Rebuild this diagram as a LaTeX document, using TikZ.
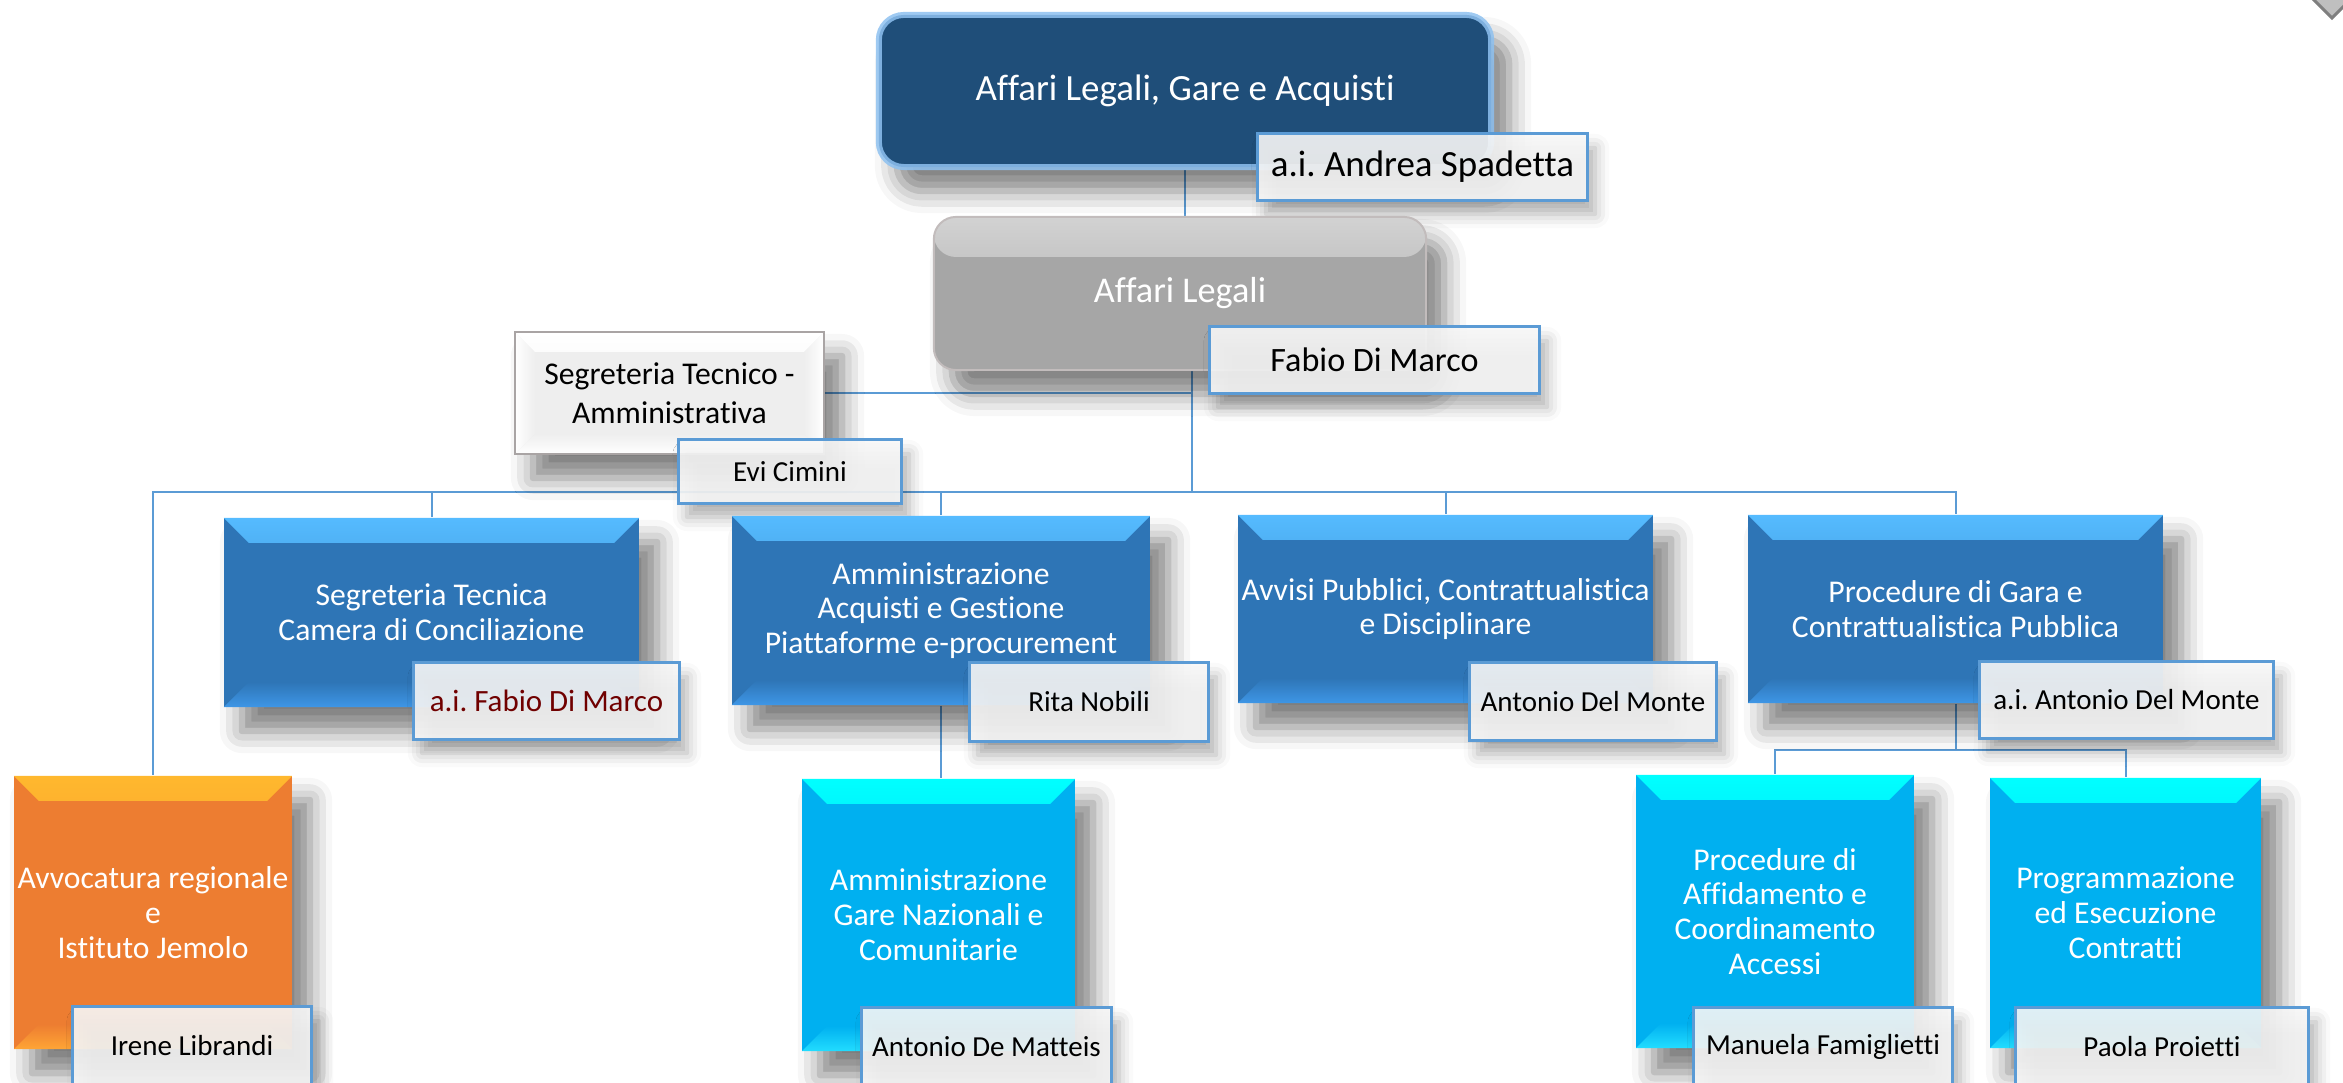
\documentclass[tikz,border=0pt]{standalone}
\usepackage{fontspec}
\setmainfont[Ligatures={NoCommon,NoContextual}]{Carlito}
\usetikzlibrary{shadows.blur}
\pgfdeclarelayer{bg}
\pgfsetlayers{bg,main}
\definecolor{navyfill}{HTML}{1F4E79}
\definecolor{glowblue}{HTML}{8EC1F0}
\definecolor{lineblue}{HTML}{5B9BD5}
\definecolor{unitblue}{HTML}{2E75B6}
\definecolor{unitbluetop}{HTML}{55BBFF}
\definecolor{unitbluebot}{HTML}{3E96E6}
\definecolor{unitcyan}{HTML}{00B0F0}
\definecolor{unitcyantop}{HTML}{00FFFF}
\definecolor{unitcyanbot}{HTML}{22DDFF}
\definecolor{unitorange}{HTML}{ED7D31}
\definecolor{unitorangetop}{HTML}{FFB82E}
\definecolor{unitorangebot}{HTML}{FFA535}
\definecolor{greymid}{HTML}{A6A6A6}
\definecolor{greytop}{HTML}{D2D2D2}
\definecolor{greyborder}{HTML}{C2BCBC}
\definecolor{segrinner}{HTML}{EEEEEE}
\definecolor{segrborder}{HTML}{A9A4A4}
\definecolor{labfill}{HTML}{F7F7F7}
\definecolor{maroontext}{RGB}{112,0,0}
\definecolor{diafill}{HTML}{BFBFBF}
\definecolor{diaborder}{HTML}{7F7F7F}
\frenchspacing
\begin{document}
\begin{tikzpicture}[x=0.01cm,y=-0.01cm,
  conn/.style={draw=lineblue, line width=0.02cm},
  boxshadow/.style={blur shadow={shadow xshift=0.18cm, shadow yshift=-0.24cm, shadow blur radius=0.22cm, shadow opacity=50}},
  labshadow/.style={blur shadow={shadow xshift=0.08cm, shadow yshift=-0.14cm, shadow blur radius=0.14cm, shadow opacity=35}},
  bevel/.style n args={3}{path picture={
    \shade[top color=#1, bottom color=#2]
      (path picture bounding box.north west) -- (path picture bounding box.north east)
      -- ([shift={(-0.25cm,-0.25cm)}]path picture bounding box.north east)
      -- ([shift={(0.25cm,-0.25cm)}]path picture bounding box.north west) -- cycle;
    \shade[top color=#2, bottom color=#3]
      ([shift={(0.25cm,0.25cm)}]path picture bounding box.south west)
      -- ([shift={(-0.25cm,0.25cm)}]path picture bounding box.south east)
      -- (path picture bounding box.south east) -- (path picture bounding box.south west) -- cycle;
  }},
  unitbox/.style={rectangle, inner sep=0pt, align=center, text=white,
    font=\fontsize{9}{9.9}\selectfont, boxshadow},
  bluebox/.style={unitbox, fill=unitblue, bevel={unitbluetop}{unitblue}{unitbluebot}},
  cyanbox/.style={unitbox, fill=unitcyan, bevel={unitcyantop}{unitcyan}{unitcyanbot}},
  orangebox/.style={unitbox, fill=unitorange, bevel={unitorangetop}{unitorange}{unitorangebot}},
  topbox/.style={rectangle, rounded corners=0.25cm, inner sep=0pt, fill=navyfill,
    draw=glowblue, draw opacity=0.85, line width=0.06cm, text=white, font=\fontsize{10.5}{12}\selectfont, boxshadow},
  graybox/.style={rectangle, rounded corners=0.22cm, inner sep=0pt, fill=greymid,
    draw=greyborder, line width=0.02cm, text=white, font=\fontsize{10.3}{12}\selectfont, boxshadow,
    path picture={\shade[top color=greytop, bottom color=greymid]
      (path picture bounding box.north west) rectangle ([yshift=-0.4cm]path picture bounding box.north east);}},
  segrbox/.style={rectangle, inner sep=0pt, align=center, fill=segrinner, draw=segrborder,
    line width=0.025cm, text=black, font=\fontsize{9}{11.2}\selectfont, boxshadow,
    path picture={
      \shade[top color=white, bottom color=segrinner]
        (path picture bounding box.north west) -- (path picture bounding box.north east)
        -- ([shift={(-0.2cm,-0.2cm)}]path picture bounding box.north east)
        -- ([shift={(0.2cm,-0.2cm)}]path picture bounding box.north west) -- cycle;
      \shade[top color=segrinner, bottom color=white]
        ([shift={(0.2cm,0.2cm)}]path picture bounding box.south west)
        -- ([shift={(-0.2cm,0.2cm)}]path picture bounding box.south east)
        -- (path picture bounding box.south east) -- (path picture bounding box.south west) -- cycle;
      \shade[left color=white, right color=segrinner]
        (path picture bounding box.north west) -- ([shift={(0.2cm,-0.2cm)}]path picture bounding box.north west)
        -- ([shift={(0.2cm,0.2cm)}]path picture bounding box.south west) -- (path picture bounding box.south west) -- cycle;
      \shade[left color=segrinner, right color=white]
        (path picture bounding box.north east) -- ([shift={(-0.2cm,-0.2cm)}]path picture bounding box.north east)
        -- ([shift={(-0.2cm,0.2cm)}]path picture bounding box.south east) -- (path picture bounding box.south east) -- cycle;
    }},
  lab/.style={rectangle, inner sep=0pt, draw=lineblue, line width=0.03cm, fill=labfill,
    fill opacity=0.9, text opacity=1, text=black, font=\fontsize{8.25}{10}\selectfont, labshadow}
]
\useasboundingbox (0,0) rectangle (2343,1083);
\clip (0,0) rectangle (2343,1083);

% top level
\node[topbox, minimum width=6.12cm, minimum height=1.52cm] (top) at (1185,91) {Affari Legali, Gare e Acquisti};
\node[lab, font=\fontsize{10.5}{12}\selectfont, minimum width=3.29cm, minimum height=0.66cm] (topL) at (1422.5,167) {a.i. Andrea Spadetta};
\node[graybox, minimum width=4.92cm, minimum height=1.53cm] (legal) at (1180,293.5) {Affari Legali};
\node[lab, font=\fontsize{9.7}{11}\selectfont, minimum width=3.29cm, minimum height=0.66cm] (legalL) at (1374.5,360) {Fabio Di Marco};
\node[segrbox, minimum width=3.09cm, minimum height=1.22cm] (segr) at (669.5,393) {Segreteria Tecnico -\\Amministrativa};
\node[lab, minimum width=2.22cm, minimum height=0.63cm] (segrL) at (790,471.5) {Evi Cimini};

% second level
\node[bluebox, minimum width=4.15cm, minimum height=1.89cm] (b1) at (431.5,612.5) {Segreteria Tecnica\\Camera di Conciliazione};
\node[lab, text=maroontext, font=\fontsize{8.8}{10}\selectfont, minimum width=2.65cm, minimum height=0.76cm] (b1L) at (546.5,701) {a.i. Fabio Di Marco};
\node[bluebox, minimum width=4.18cm, minimum height=1.89cm] (b2) at (941,610.5) {Amministrazione\\Acquisti e Gestione\\Piattaforme e-procurement};
\node[lab, minimum width=2.38cm, minimum height=0.78cm] (b2L) at (1089,702) {Rita Nobili};
\node[bluebox, minimum width=4.15cm, minimum height=1.88cm] (b3) at (1445.5,609) {Avvisi Pubblici, Contrattualistica\\e Disciplinare};
\node[lab, minimum width=2.46cm, minimum height=0.77cm] (b3L) at (1593,701.5) {Antonio Del Monte};
\node[bluebox, minimum width=4.15cm, minimum height=1.88cm] (b4) at (1955.5,609) {Procedure di Gara e\\Contrattualistica Pubblica};
\node[lab, minimum width=2.93cm, minimum height=0.76cm] (b4L) at (2126.5,700) {a.i. Antonio Del Monte};

% third level
\node[orangebox, minimum width=2.78cm, minimum height=2.73cm] (o1) at (153,912.5) {Avvocatura regionale\\e\\Istituto Jemolo};
\node[lab, minimum width=2.38cm, minimum height=0.78cm] (o1L) at (192,1046) {Irene Librandi};
\node[cyanbox, minimum width=2.73cm, minimum height=2.72cm] (c1) at (938.5,915) {Amministrazione\\Gare Nazionali e\\Comunitarie};
\node[lab, minimum width=2.49cm, minimum height=0.78cm] (c1L) at (986.5,1047) {Antonio De Matteis};
\node[cyanbox, minimum width=2.78cm, minimum height=2.73cm] (c2) at (1775,911.5) {Procedure di\\Affidamento e\\Coordinamento\\Accessi};
\node[lab, minimum width=2.58cm, minimum height=0.78cm] (c2L) at (1823,1047) {Manuela Famiglietti};
\node[cyanbox, minimum width=2.71cm, minimum height=2.70cm] (c3) at (2125.5,913) {Programmazione\\ed Esecuzione\\Contratti};
\node[lab, minimum width=2.92cm, minimum height=0.78cm] (c3L) at (2162,1047) {Paola Proietti};

% connectors
\begin{pgfonlayer}{bg}
\coordinate (j1) at (1192,392);
\coordinate (j2) at (1192,492);
\coordinate (j3) at (1952,750);
\draw[conn] (top.south) -- (top.south |- legal.north);
\draw[conn] (legal.south -| j1) -- (j2);
\draw[conn] (segr.east) -- (segr.east -| j1);
\draw[conn] (o1.north) -- (o1.north |- j2) -- (b4.north |- j2) -- (b4.north);
\draw[conn] (b1.north) -- (b1.north |- j2);
\draw[conn] (b2.north) -- (b2.north |- j2);
\draw[conn] (b3.north) -- (b3.north |- j2);
\draw[conn] (b2.south) -- (b2.south |- c1.north);
\draw[conn] (b4.south) -- (b4.south |- j3);
\draw[conn] (c2.north) -- (c2.north |- j3) -- (c3.north |- j3) -- (c3.north);
\end{pgfonlayer}

% corner shape
\filldraw[fill=diafill, draw=diaborder, line width=0.03cm] (2332,18) -- (2297,-17) -- (2332,-52) -- (2367,-17) -- cycle;
\end{tikzpicture}
\end{document}
